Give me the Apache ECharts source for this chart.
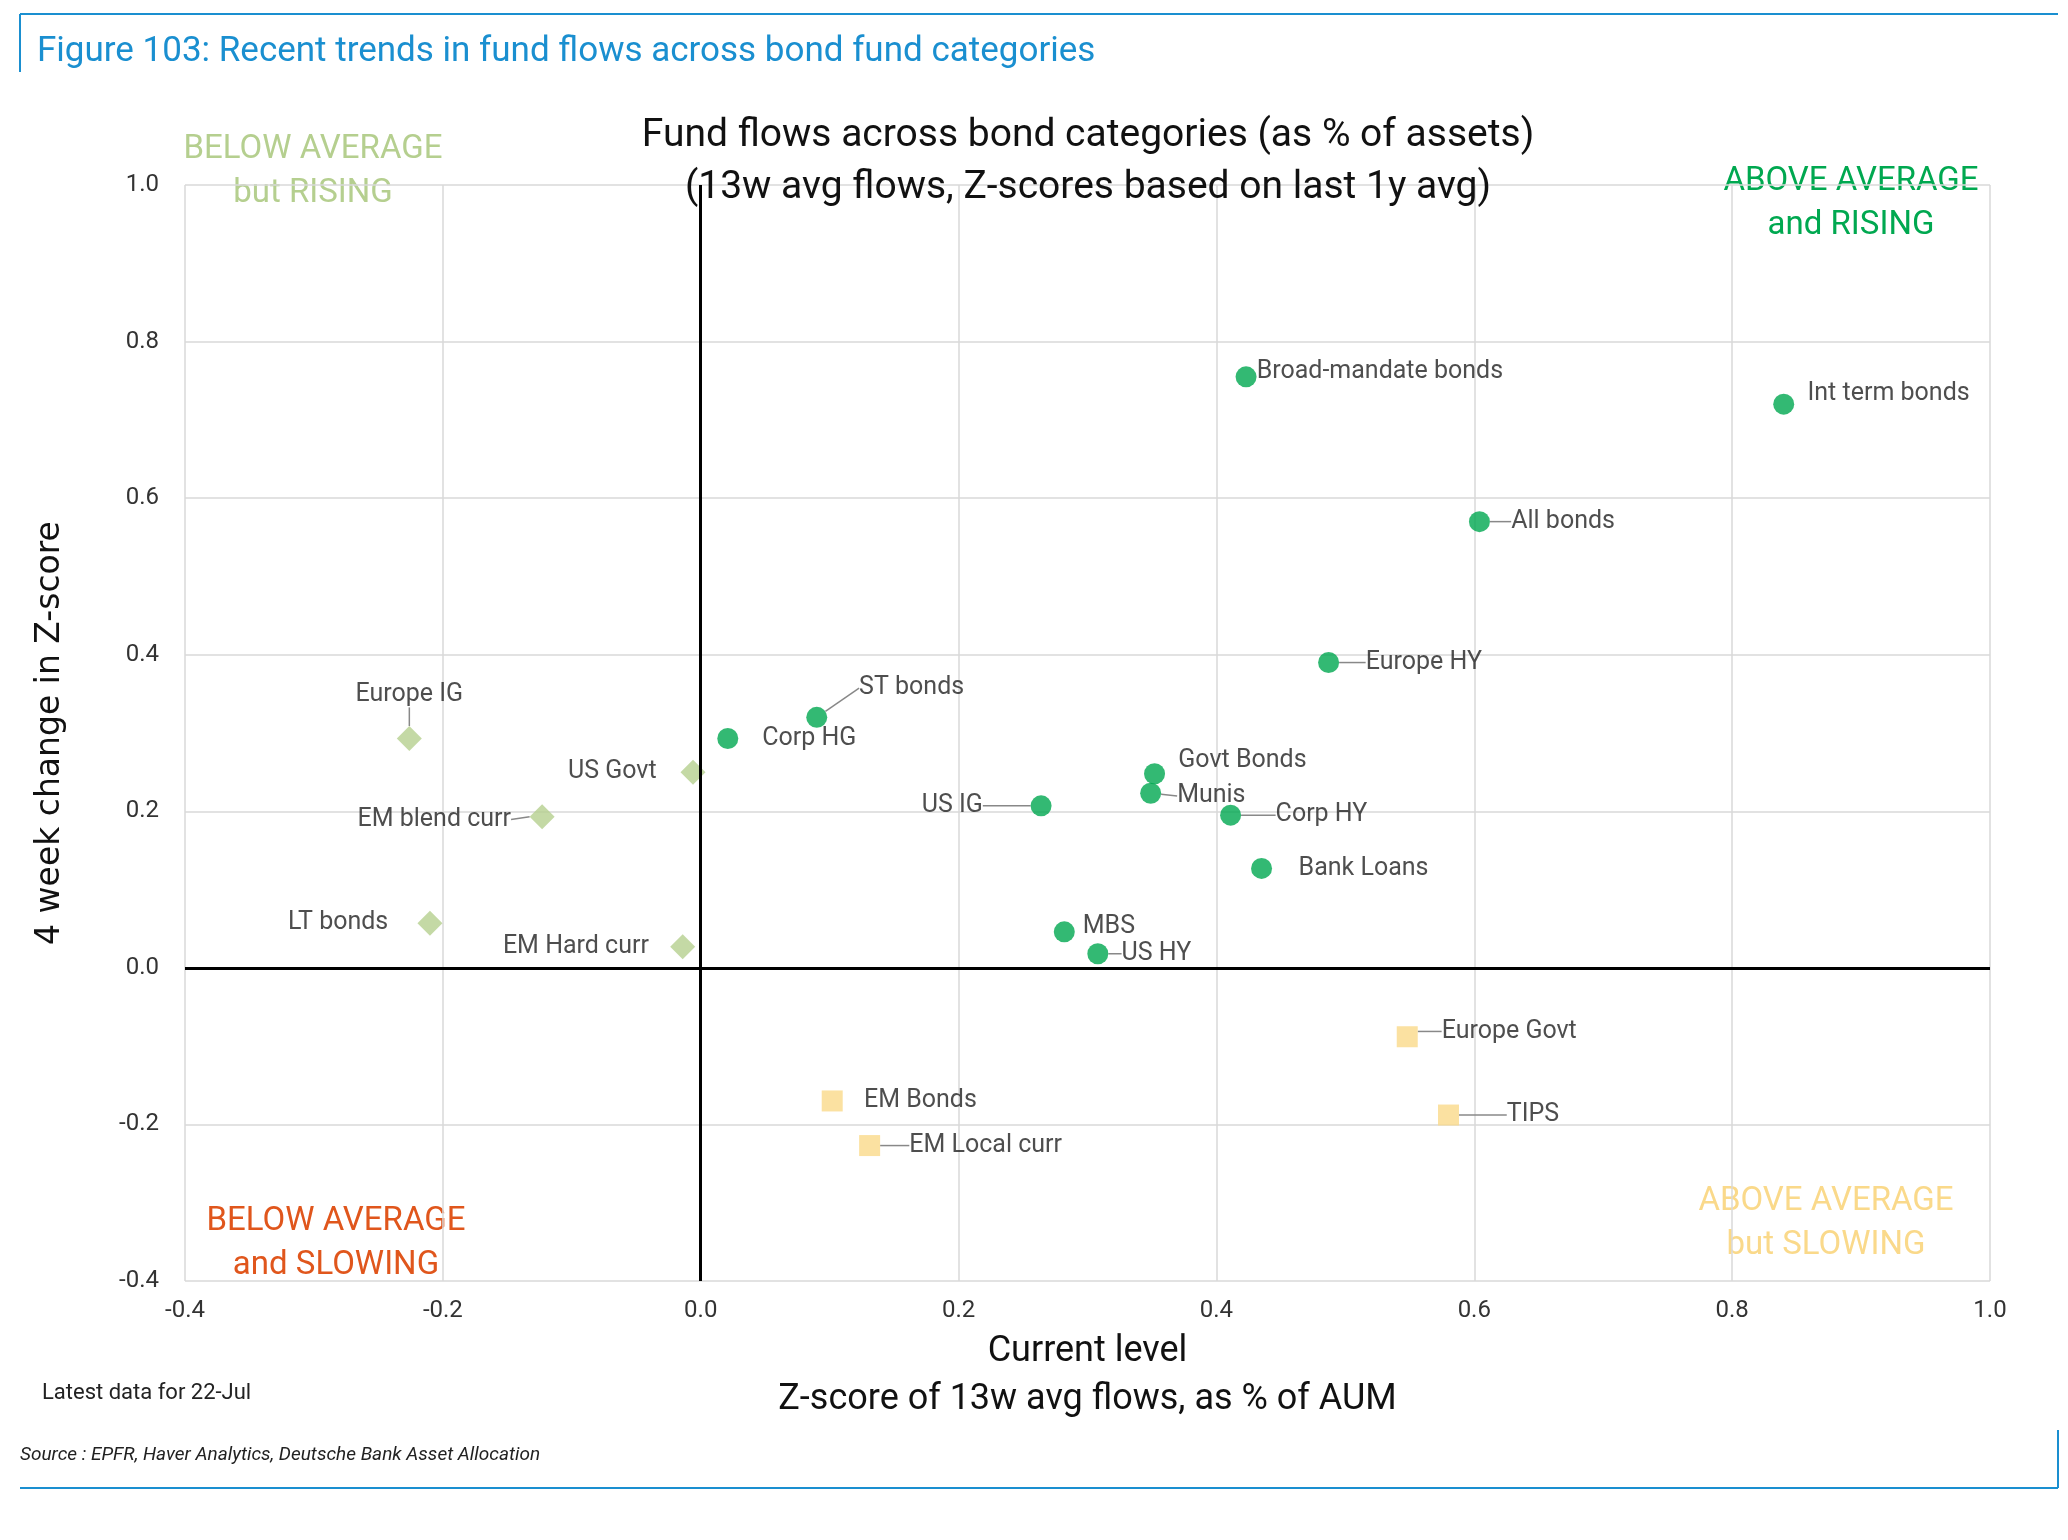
<!DOCTYPE html>
<html><head><meta charset="utf-8">
<script src="https://cdn.jsdelivr.net/npm/echarts@6/dist/echarts.min.js"></script>
<style>html,body{margin:0;padding:0;background:#fff}#c{width:2068px;height:1540px}</style>
</head><body><div id="c"></div>
<script>
const risingNames = ['Broad-mandate bonds','Int term bonds','All bonds','Europe HY','ST bonds','Corp HG','Govt Bonds','Munis','US IG','Corp HY','Bank Loans','MBS','US HY'];
const risingX = [0.423,0.840,0.604,0.487,0.090,0.021,0.352,0.349,0.264,0.411,0.435,0.282,0.308];
const risingY = [0.755,0.720,0.570,0.390,0.320,0.293,0.248,0.223,0.207,0.195,0.127,0.046,0.018];
const belowNames = ['Europe IG','US Govt','EM blend curr','LT bonds','EM Hard curr'];
const belowX = [-0.226,-0.006,-0.123,-0.210,-0.014];
const belowY = [0.293,0.250,0.193,0.057,0.027];
const slowNames = ['Europe Govt','TIPS','EM Bonds','EM Local curr'];
const slowX = [0.548,0.580,0.102,0.131];
const slowY = [-0.088,-0.188,-0.170,-0.227];
const xTicks = [-0.4,-0.2,0.0,0.2,0.4,0.6,0.8,1.0];
const yTicks = [-0.4,-0.2,0.0,0.2,0.4,0.6,0.8,1.0];

// label placement: [position, dx, dy, leaderLine]
const S = 1.325;
const labelPlace = {
 'Broad-mandate bonds':['right',-6,-4,false],'Int term bonds':['right',4,-8,false],'All bonds':['right',10,0,true],
 'Europe HY':['right',14,0,true],'ST bonds':['right',18,-22,true],'Corp HG':['right',12,0,false],
 'Govt Bonds':['right',4,-10,false],'Munis':['right',6,2,true],'US IG':['left',-30,0,true],
 'Corp HY':['right',20,0,true],'Bank Loans':['right',14,0,false],'MBS':['right',0,-4,false],
 'US HY':['right',4,0,true],'Europe IG':['top',0,-8,true],'US Govt':['left',-12,0,false],
 'EM blend curr':['left',-8,2,true],'LT bonds':['left',-16,0,false],'EM Hard curr':['left',-10,0,false],
 'Europe Govt':['right',12,-4,true],'TIPS':['right',30,0,true],'EM Bonds':['right',10,0,false],
 'EM Local curr':['right',16,0,true]
};
function mk(names,xs,ys){return names.map((n,i)=>{const p=labelPlace[n];return {name:n,value:[xs[i],ys[i]],
  label:{position:p[0]},labelLine:{show:p[3],lineStyle:{color:'#888',width:1.5}}};});}
const lbl={show:true,formatter:'{b}',fontSize:25,color:'#222',fontFamily:'Roboto',distance:8};
const layout=function(params){const p=labelPlace[params.text];if(!p)return {};return {dx:p[1]*S,dy:p[2]*S};};
const chart=echarts.init(document.getElementById('c'));
chart.setOption({
 animation:false,
 grid:{left:185,right:78,top:185,bottom:259},
 title:[{text:'Figure 103: Recent trends in fund flows across bond fund categories',left:32,top:30,textStyle:{color:'#1a8fd0',fontSize:35,fontWeight:'normal',fontFamily:'Roboto'}},
  {text:'Fund flows across bond categories (as % of assets)\n(13w avg flows, Z-scores based on last 1y avg)',left:1083,top:105,textAlign:'center',textStyle:{color:'#111',fontSize:39,fontWeight:'normal',fontFamily:'Roboto',lineHeight:52}}],
 xAxis:{type:'value',min:-0.4,max:1.0,interval:0.2,name:'Current level\nZ-score of 13w avg flows, as % of AUM',nameLocation:'middle',nameGap:46,
  nameTextStyle:{fontSize:36,color:'#111',fontFamily:'Roboto',lineHeight:48,verticalAlign:'top'},
  axisLine:{onZero:false,show:false},axisTick:{show:false},splitLine:{lineStyle:{color:'#d9d9d9',width:1.5}},
  axisLabel:{fontSize:24,color:'#333',margin:18,fontFamily:'Roboto',formatter:v=>xTicks.includes(+v.toFixed(1))?v.toFixed(1):''}},
 yAxis:{type:'value',min:-0.4,max:1.0,interval:0.2,name:'4 week change in Z-score',nameLocation:'middle',nameGap:118,
  nameTextStyle:{fontSize:33,color:'#111',fontFamily:'DejaVu Sans'},
  axisLine:{show:false},axisTick:{show:false},splitLine:{lineStyle:{color:'#d9d9d9',width:1.5}},
  axisLabel:{fontSize:24,color:'#333',margin:26,fontFamily:'Roboto',formatter:v=>yTicks.includes(+v.toFixed(1))?v.toFixed(1):''}},
 graphic:[
  {type:'line',shape:{x1:20,y1:14,x2:2058,y2:14},style:{stroke:'#1a8fd0',lineWidth:2}},
  {type:'line',shape:{x1:20,y1:14,x2:20,y2:72},style:{stroke:'#1a8fd0',lineWidth:2}},
  {type:'line',shape:{x1:20,y1:1488,x2:2058,y2:1488},style:{stroke:'#1a8fd0',lineWidth:2}},
  {type:'line',shape:{x1:2058,y1:1430,x2:2058,y2:1488},style:{stroke:'#1a8fd0',lineWidth:2}},
  {type:'text',left:42,top:1382,style:{text:'Latest data for 22-Jul',fontSize:22,fill:'#222',fontFamily:'Roboto'}},
  {type:'text',left:20,top:1446,style:{text:'Source : EPFR, Haver Analytics, Deutsche Bank Asset Allocation',fontSize:19,fill:'#222',fontStyle:'italic',fontFamily:'Roboto'}},
  {type:'text',x:313,y:128,style:{text:'BELOW AVERAGE\nbut RISING',fontSize:33,fill:'#b5cf8f',align:'center',lineHeight:44,fontFamily:'Roboto'}},
  {type:'text',x:1851,y:160,style:{text:'ABOVE AVERAGE\nand RISING',fontSize:33,fill:'#00a850',align:'center',lineHeight:44,fontFamily:'Roboto'}},
  {type:'text',x:336,y:1200,style:{text:'BELOW AVERAGE\nand SLOWING',fontSize:33,fill:'#e0561c',align:'center',lineHeight:44,fontFamily:'Roboto'}},
  {type:'text',x:1826,y:1180,style:{text:'ABOVE AVERAGE\nbut SLOWING',fontSize:33,fill:'#fad98a',align:'center',lineHeight:44,fontFamily:'Roboto'}}
 ],
 series:[
  {type:'scatter',name:'rising',symbol:'circle',symbolSize:21,itemStyle:{color:'#00a850'},data:mk(risingNames,risingX,risingY),label:lbl,labelLayout:layout,
   markLine:{silent:true,symbol:'none',label:{show:false},lineStyle:{color:'#000',width:3,type:'solid'},data:[{xAxis:0},{yAxis:0}]}},
  {type:'scatter',name:'below',symbol:'diamond',symbolSize:25,itemStyle:{color:'#b5cf8f'},data:mk(belowNames,belowX,belowY),label:lbl,labelLayout:layout},
  {type:'scatter',name:'slow',symbol:'rect',symbolSize:21,itemStyle:{color:'#fad98a'},data:mk(slowNames,slowX,slowY),label:lbl,labelLayout:layout}
 ]
});
</script></body></html>
